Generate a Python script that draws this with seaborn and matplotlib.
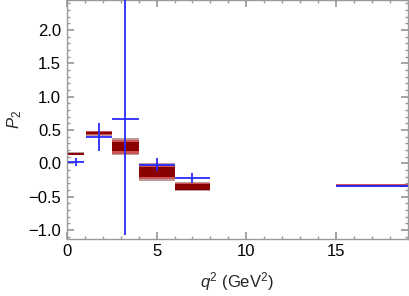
import matplotlib
matplotlib.use("Agg")
import matplotlib.pyplot as plt
from matplotlib.ticker import MultipleLocator
import numpy as np
import seaborn as sns

# q2 bins (GeV^2)
bin_lo = [0.1, 1.1, 2.5, 4.0, 6.0, 15.0]
bin_hi = [0.98, 2.5, 4.0, 6.0, 8.0, 19.0]

# SM prediction: central value and band half-widths (outer, middle, core)
sm_val = [0.14, 0.45, 0.25, -0.13, -0.35, -0.335]
sm_outer = [0.022, 0.04, 0.13, 0.133, 0.063, 0.025]
sm_mid = [0.016, 0.028, 0.105, 0.11, 0.055, 0.017]
sm_core = [0.01, 0.018, 0.07, 0.08, 0.045, 0.01]

# measurement
exp_val = [0.02, 0.40, 0.66, -0.02, -0.22, -0.34]
exp_err_lo = [0.055, 0.21, 1.74, 0.09, 0.07, 0.02]
exp_err_hi = [0.06, 0.20, 1.90, 0.095, 0.07, 0.02]

sns.set_theme(style="ticks")
plt.rcParams["font.family"] = ["Liberation Sans", "DejaVu Sans"]
plt.rcParams["mathtext.fontset"] = "custom"
plt.rcParams["mathtext.rm"] = "Liberation Sans"
plt.rcParams["mathtext.it"] = "Liberation Sans:italic"

fig = plt.figure(figsize=(4.09, 2.96), dpi=100)
ax = fig.add_axes([0.163, 0.194, 0.835, 0.806])

lo = np.array(bin_lo)
hi = np.array(bin_hi)
width = hi - lo
val = np.array(sm_val)

# nested bands, outer first
for half, col in [(sm_outer, "#bd9a9a"), (sm_mid, "#cc5555"), (sm_core, "#8b0000")]:
    half = np.array(half)
    ax.bar(lo, 2 * half, width=width, bottom=val - half, align="edge",
           color=col, linewidth=0, zorder=2)

ax.errorbar((lo + hi) / 2, exp_val, xerr=width / 2,
            yerr=[exp_err_lo, exp_err_hi], fmt="none", ecolor="#2a2aff",
            elinewidth=1.3, capsize=0, zorder=3)

ax.set_xlim(0, 19)
ax.set_ylim(-1.13, 2.45)
ax.xaxis.set_major_locator(MultipleLocator(5))
ax.xaxis.set_minor_locator(MultipleLocator(1))
ax.yaxis.set_major_locator(MultipleLocator(0.5))
ax.yaxis.set_minor_locator(MultipleLocator(0.1))
ax.tick_params(which="both", direction="in", top=True, right=True,
               color="#999999", labelsize=12, labelcolor="black")
ax.tick_params(which="major", length=5, pad=4)
ax.tick_params(which="minor", length=2.5)
for s in ax.spines.values():
    s.set_color("#999999")
    s.set_linewidth(1.0)

ax.set_xlabel(r"$q^2$ (GeV$^2$)", fontsize=12, labelpad=8)
ax.set_ylabel(r"$P_2$", fontsize=12, labelpad=3)

fig.savefig("out.png", dpi=100)
